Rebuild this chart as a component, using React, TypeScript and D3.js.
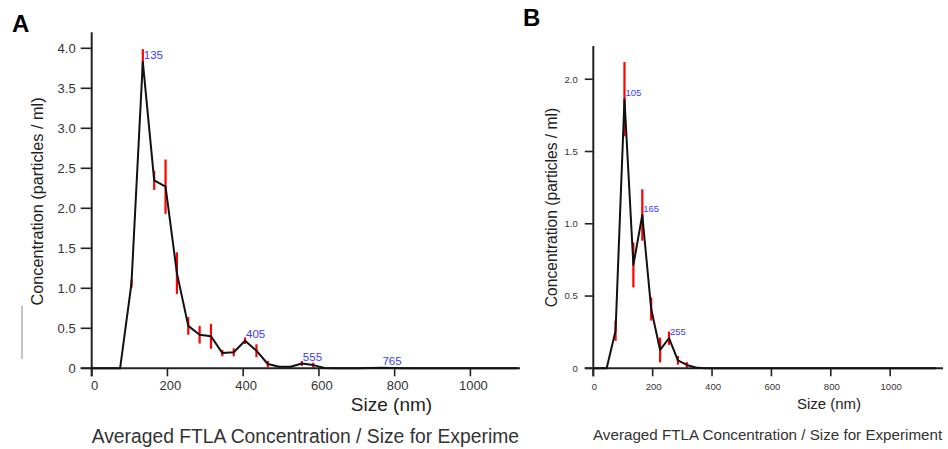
import React from "react";
import * as d3 from "d3";

// ---------- Panel A data ----------
const sizesA = [0, 15, 45, 75, 105, 135, 165, 195, 225, 255, 285, 315, 345, 375, 405, 435, 465, 495, 525, 555, 585, 615, 645, 675, 705, 735, 765, 795, 825, 855, 885, 915, 945, 975, 1005, 1035, 1065, 1095, 1125];
const concA = [0, 0, 0, 0, 1.06, 3.83, 2.35, 2.27, 1.19, 0.53, 0.42, 0.4, 0.19, 0.2, 0.345, 0.22, 0.054, 0.02, 0.02, 0.06, 0.04, 0.005, 0, 0, 0, 0.003, 0.006, 0.003, 0, 0, 0, 0, 0, 0, 0, 0, 0, 0, 0];
const errA = [0, 0, 0, 0, 0.05, 0.16, 0.12, 0.34, 0.26, 0.11, 0.11, 0.155, 0.04, 0.05, 0.04, 0.08, 0.04, 0.01, 0.01, 0.03, 0.03, 0, 0, 0, 0, 0, 0, 0, 0, 0, 0, 0, 0, 0, 0, 0, 0, 0, 0];
const peaksA = [135, 405, 555, 765];
const yTicksA = [0, 0.5, 1, 1.5, 2, 2.5, 3, 3.5, 4];
const yTickLabelsA = ["0", "0.5", "1.0", "1.5", "2.0", "2.5", "3.0", "3.5", "4.0"];

// ---------- Panel B data ----------
const sizesB = [0, 15, 45, 75, 105, 135, 165, 195, 225, 255, 285, 315, 345, 375, 405, 435, 465, 495, 525, 555, 585, 615, 645, 675, 705, 735, 765, 795, 825, 855, 885, 915, 945, 975, 1005, 1035, 1065, 1095, 1125, 1155];
const concB = [0, 0, 0, 0.26, 1.862, 0.715, 1.061, 0.41, 0.127, 0.208, 0.055, 0.023, 0.006, 0, 0, 0, 0, 0, 0, 0, 0, 0, 0, 0, 0, 0, 0, 0, 0, 0, 0, 0, 0, 0, 0, 0, 0, 0, 0, 0];
const errB = [0, 0, 0, 0.07, 0.257, 0.155, 0.178, 0.08, 0.086, 0.046, 0.03, 0.02, 0, 0, 0, 0, 0, 0, 0, 0, 0, 0, 0, 0, 0, 0, 0, 0, 0, 0, 0, 0, 0, 0, 0, 0, 0, 0, 0, 0];
const peaksB = [105, 165, 255];
const yTicksB = [0, 0.5, 1, 1.5, 2];
const yTickLabelsB = ["0", "0.5", "1.0", "1.5", "2.0"];

const xTicks = [0, 200, 400, 600, 800, 1000];
const xLabel = "Size (nm)";
const yLabel = "Concentration (particles / ml)";
const title = "Averaged FTLA Concentration / Size for Experiment";

const FONT = "'Liberation Sans', Arial, Helvetica, sans-serif";

type PanelProps = {
  id: string;
  letter: string;
  letterX: number;
  letterY: number;
  sizes: number[];
  conc: number[];
  err: number[];
  peaks: number[];
  yTicks: number[];
  yTickLabels: string[];
  xDomainMax: number;
  yDomainMax: number;
  x0: number;
  x1: number;
  y0: number;
  y1: number;
  tickFont: number;
  peakFont: number;
  yTickLen: number;
  xTickLen: number;
  yLabelX: number;
  yLabelY: number;
  yLabelFont: number;
  xLabelX: number;
  xLabelY: number;
  xLabelFont: number;
  titleX: number;
  titleY: number;
  titleFont: number;
  clipRight: number;
  xTickDx: number;
  xTickY: number;
  yTickGap: number;
};

function Panel(p: PanelProps) {
  const x = d3.scaleLinear().domain([0, p.xDomainMax]).range([p.x0, p.x1]);
  const y = d3.scaleLinear().domain([0, p.yDomainMax]).range([p.y0, p.y1]);
  const pts = p.sizes.map((s, i) => [s, p.conc[i]] as [number, number]);
  const line = d3
    .line<[number, number]>()
    .x((d) => x(d[0]))
    .y((d) => y(d[1]));
  const clipId = "clip" + p.id;
  return (
    <g>
      <defs>
        <clipPath id={clipId}>
          <rect x={0} y={0} width={p.clipRight} height={449} />
        </clipPath>
      </defs>
      <text x={p.letterX} y={p.letterY} fontFamily={FONT} fontWeight="bold" fontSize={24} fill="#000">
        {p.letter}
      </text>
      {/* error bars */}
      {p.sizes.map((s, i) =>
        p.err[i] > 0 ? (
          <line
            key={"e" + i}
            x1={x(s)}
            x2={x(s)}
            y1={y(p.conc[i] - p.err[i])}
            y2={y(p.conc[i] + p.err[i])}
            stroke="#ff0000"
            strokeWidth={2.2}
          />
        ) : null
      )}
      {/* axes */}
      <line x1={p.x0} x2={p.x0} y1={p.y1} y2={p.y0 + p.xTickLen} stroke="#222" strokeWidth={2} />
      <line x1={p.x0 - p.yTickLen} x2={p.x1} y1={p.y0} y2={p.y0} stroke="#222" strokeWidth={2} />
      {p.yTicks.map((t, i) => (
        <g key={"yt" + i}>
          <line x1={p.x0 - p.yTickLen} x2={p.x0} y1={y(t)} y2={y(t)} stroke="#222" strokeWidth={1.6} />
          <text
            x={p.x0 - p.yTickLen - p.yTickGap}
            y={y(t)}
            dy="0.35em"
            textAnchor="end"
            fontFamily={FONT}
            fontSize={p.tickFont}
            fill="#333"
          >
            {p.yTickLabels[i]}
          </text>
        </g>
      ))}
      {xTicks.map((t, i) => (
        <g key={"xt" + i}>
          <line x1={x(t)} x2={x(t)} y1={p.y0} y2={p.y0 + p.xTickLen} stroke="#222" strokeWidth={1.6} />
          <text
            x={x(t) + p.xTickDx}
            y={p.xTickY}
            textAnchor="middle"
            fontFamily={FONT}
            fontSize={p.tickFont}
            fill="#333"
          >
            {String(t)}
          </text>
        </g>
      ))}
      {/* data line */}
      <path d={line(pts) || ""} fill="none" stroke="#111" strokeWidth={2} strokeLinejoin="round" />
      {/* peak labels */}
      {p.peaks.map((pk, i) => {
        const idx = p.sizes.indexOf(pk);
        return (
          <text
            key={"pk" + i}
            x={x(pk) + 1}
            y={y(p.conc[idx]) - 3}
            fontFamily={FONT}
            fontSize={p.peakFont}
            fill="#3a3aff"
          >
            {String(pk)}
          </text>
        );
      })}
      {/* labels */}
      <text
        transform={`translate(${p.yLabelX},${p.yLabelY}) rotate(-90)`}
        textAnchor="middle"
        fontFamily={FONT}
        fontSize={p.yLabelFont}
        fill="#222"
      >
        {yLabel}
      </text>
      <text x={p.xLabelX} y={p.xLabelY} textAnchor="middle" fontFamily={FONT} fontSize={p.xLabelFont} fill="#222">
        {xLabel}
      </text>
      <g clipPath={`url(#${clipId})`}>
        <text x={p.titleX} y={p.titleY} fontFamily={FONT} fontSize={p.titleFont} fill="#333">
          {title}
        </text>
      </g>
    </g>
  );
}

export default function App() {
  return (
    <div style={{ position: "fixed", left: 0, top: 0, width: 948, height: 449, background: "#fff" }}>
      <svg width={948} height={449} viewBox="0 0 948 449" style={{ display: "block" }}>
        <rect x={0} y={0} width={948} height={449} fill="#fff" />
        <line x1={22} x2={22} y1={306} y2={359} stroke="#888" strokeWidth={1} />
        <Panel
          id="A"
          letter="A"
          letterX={12}
          letterY={32}
          sizes={sizesA}
          conc={concA}
          err={errA}
          peaks={peaksA}
          yTicks={yTicksA}
          yTickLabels={yTickLabelsA}
          xDomainMax={1131}
          yDomainMax={4.2}
          x0={91.7}
          x1={520}
          y0={368.3}
          y1={32.3}
          tickFont={13}
          peakFont={11.5}
          yTickLen={11}
          xTickLen={8}
          yLabelX={43}
          yLabelY={201.5}
          yLabelFont={16.3}
          xLabelX={391.5}
          xLabelY={410.5}
          xLabelFont={19}
          titleX={91.7}
          titleY={442.5}
          titleFont={19.3}
          clipRight={520}
          xTickDx={3}
          xTickY={389.5}
          yTickGap={5}
        />
        <Panel
          id="B"
          letter="B"
          letterX={523}
          letterY={26}
          sizes={sizesB}
          conc={concB}
          err={errB}
          peaks={peaksB}
          yTicks={yTicksB}
          yTickLabels={yTickLabelsB}
          xDomainMax={1178}
          yDomainMax={2.23}
          x0={593.3}
          x1={943}
          y0={368.3}
          y1={46}
          tickFont={9.5}
          peakFont={9.5}
          yTickLen={8.5}
          xTickLen={8}
          yLabelX={556.5}
          yLabelY={207.5}
          yLabelFont={15.6}
          xLabelX={829}
          xLabelY={409}
          xLabelFont={15}
          titleX={593}
          titleY={440}
          titleFont={15.2}
          clipRight={948}
          xTickDx={1}
          xTickY={390}
          yTickGap={7}
        />
      </svg>
    </div>
  );
}
